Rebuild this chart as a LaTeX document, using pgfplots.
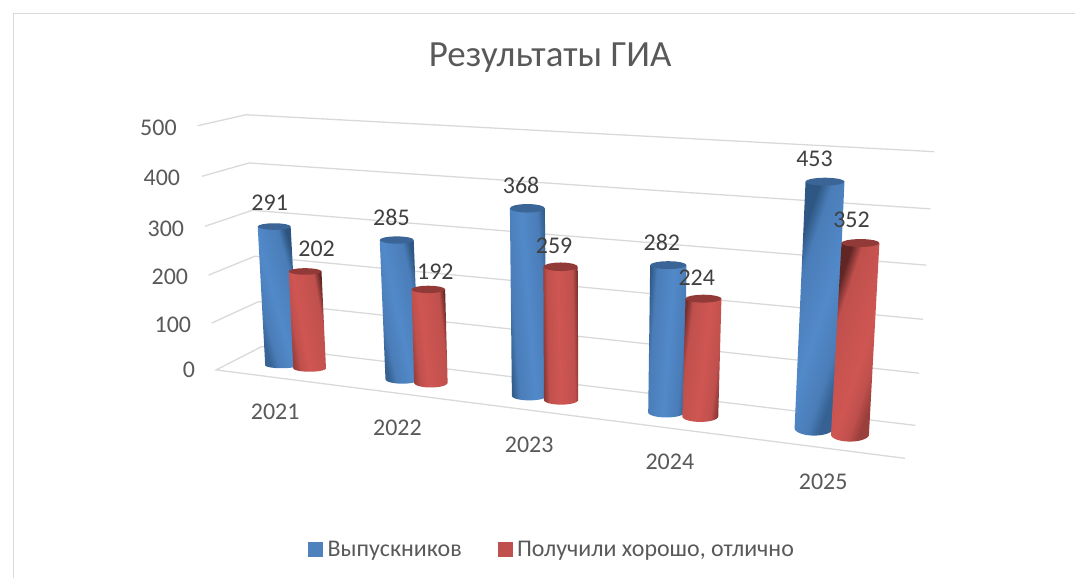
\documentclass[border=0pt]{standalone}
\usepackage{fontspec}
\setmainfont{Carlito}
\usepackage{pgfplots}
\usepackage{pgfplotstable}
\pgfplotsset{compat=1.18}
\definecolor{gridc}{HTML}{D9D9D9}
\definecolor{tickc}{HTML}{595959}
\definecolor{lblc}{HTML}{404040}
\definecolor{blueS}{HTML}{4F81BD}
\definecolor{redS}{HTML}{C0504D}
\definecolor{blueCap}{HTML}{3A6596}
\definecolor{redCap}{HTML}{913A37}
\definecolor{blueB}{HTML}{5289C9}
\definecolor{blueM}{HTML}{4A7DB8}
\definecolor{blueD}{HTML}{264B72}
\definecolor{blueE}{HTML}{3F6DA3}
\definecolor{redB}{HTML}{CF5652}
\definecolor{redM}{HTML}{C0504D}
\definecolor{redD}{HTML}{5E2523}
\definecolor{redE}{HTML}{9E403D}
% val = value; xb,yb = foot of the cylinder; xf,yf = where 500 would lie
\pgfplotstableread{
year val xb yb xf yf rx ryb ryt uz lx ly
2021 291 280.0 366.0 267.1 127.2 16.5 3.0 3.3 -0.15 268 203
2022 285 401.0 380.0 391.0 135.3 17.0 4.5 3.7 -0.10 390 218
2023 368 528.2 396.7 525.5 141.3 17.5 4.5 4.3 0.00 520 186
2024 282 665.5 413.3 669.0 151.6 18.2 5.0 4.0 0.05 661 243
2025 453 813.5 429.0 825.6 156.4 19.5 7.5 4.0 0.10 814 159
}\tblV
\pgfplotstableread{
year val xb yb xf yf rx ryb ryt uz lx ly
2021 202 308.0 369.0 296.9 128.9 16.4 3.5 3.3 -0.30 315 249
2022 192 429.5 383.5 423.0 140.0 16.8 4.8 3.7 -0.30 434 272
2023 259 560.0 400.7 559.0 143.2 17.2 4.8 4.3 -0.10 553 246
2024 224 699.5 417.3 706.6 153.9 18.0 5.5 4.0 0.10 696 278
2025 352 849.5 435.5 864.4 162.8 19.0 7.0 4.0 0.30 851 220
}\tblP
% value-axis and category-axis labels
\pgfplotstableread{
lx ly val
156.5 128 500
160 178 400
164 229 300
168 277 200
171 325 100
187 371 0
}\tblTicks
\pgfplotstableread{
lx ly val
273.5 413 2021
396 428.5 2022
528 446 2023
669 463 2024
822.7 482.5 2025
}\tblCats
% unit cylinder outline: w=0 foot, w=1 top
\pgfplotstableread{
u v w
-1 0 0
-0.9914 0.1305 0
-0.9659 0.2588 0
-0.9239 0.3827 0
-0.8660 0.5 0
-0.7934 0.6088 0
-0.7071 0.7071 0
-0.6088 0.7934 0
-0.5 0.8660 0
-0.3827 0.9239 0
-0.2588 0.9659 0
-0.1305 0.9914 0
0 1 0
0.1305 0.9914 0
0.2588 0.9659 0
0.3827 0.9239 0
0.5 0.8660 0
0.6088 0.7934 0
0.7071 0.7071 0
0.7934 0.6088 0
0.8660 0.5 0
0.9239 0.3827 0
0.9659 0.2588 0
0.9914 0.1305 0
1 0 0
1 0 1
-1 0 1
-1 0 0
}\shapeOut
% unit cylinder cap
\pgfplotstableread{
u v
-1 0
-0.9239 -0.3827
-0.7071 -0.7071
-0.3827 -0.9239
0 -1
0.3827 -0.9239
0.7071 -0.7071
0.9239 -0.3827
1 0
0.9239 0.3827
0.7071 0.7071
0.3827 0.9239
0 1
-0.3827 0.9239
-0.7071 0.7071
-0.9239 0.3827
-1 0
}\shapeCap
\newcommand{\getv}[3]{\pgfplotstablegetelem{#2}{#3}\of{#1}\expandafter\let\csname c#3\endcsname\pgfplotsretval}
% #1 table, #2 row, #3 colour prefix, #4 cap colour
\newcommand{\cyl}[4]{%
  \getv{#1}{#2}{val}\getv{#1}{#2}{xb}\getv{#1}{#2}{yb}\getv{#1}{#2}{xf}\getv{#1}{#2}{yf}%
  \getv{#1}{#2}{rx}\getv{#1}{#2}{ryb}\getv{#1}{#2}{ryt}\getv{#1}{#2}{uz}%
  \pgfmathsetmacro{\cdx}{(\cxf-\cxb)*\cval/500}%
  \pgfmathsetmacro{\cW}{2*\crx+abs(\cdx)}%
  \pgfmathsetmacro{\csh}{50*\crx/\cW}%
  \pgfmathsetmacro{\cang}{-1.5*atan(\cdx/\cW)}%
  \pgfmathsetmacro{\pa}{50-\csh}%
  \pgfmathsetmacro{\pb}{50+\csh}%
  \pgfmathsetmacro{\pc}{50-0.7*\csh}%
  \pgfmathsetmacro{\pd}{50+0.7*\csh}%
  \pgfmathsetmacro{\pz}{50+\csh*\cuz}%
  \pgfmathsetmacro{\mL}{50+150*\cuz}%
  \pgfmathsetmacro{\mR}{50-150*\cuz}%
  \edef\declshade{\noexpand\pgfdeclarehorizontalshading{cyl#3#2}{100bp}{%
    color(0bp)=(#3D!\mL!#3E); color(\pa bp)=(#3D!\mL!#3E); color(\pc bp)=(#3M);
    color(\pz bp)=(#3B); color(\pd bp)=(#3M);
    color(\pb bp)=(#3D!\mR!#3E); color(100bp)=(#3D!\mR!#3E)}}\declshade
  \edef\doplot{\noexpand\addplot[shade,shading=cyl#3#2,shading angle=\cang,draw=none,forget plot]}%
  \doplot
    table[x expr={\cxb+(\cxf-\cxb)*\cval/500*\thisrow{w}+\crx*\thisrow{u}},
          y expr={\cyb+(\cyf-\cyb)*\cval/500*\thisrow{w}+\cryb*\thisrow{v}}] {\shapeOut} --cycle;
  \addplot[fill=#4,draw=none,forget plot]
    table[x expr={\cxb+(\cxf-\cxb)*\cval/500+\crx*\thisrow{u}},
          y expr={\cyb+(\cyf-\cyb)*\cval/500+\cryt*\thisrow{v}}] {\shapeCap} --cycle;
}
\begin{document}
\pgfplotsset{
  txt/.style={draw=none,mark=none,forget plot,point meta=\thisrow{val},nodes near coords,
    every node near coord/.append style={anchor=center,inner sep=0pt,font=\fontsize{24}{28}\selectfont,text=#1}},
  wall/.style={draw=gridc,line width=1.3pt,forget plot},
}
\begin{tikzpicture}
\begin{axis}[
  scale only axis,width=1075pt,height=579pt,
  xmin=0,xmax=1075,ymin=0,ymax=579,y dir=reverse,
  hide axis,
  /pgf/number format/assume math mode=true,
  /pgf/number format/1000 sep={},
  legend columns=2,
  legend cell align=left,
  legend style={draw=none,fill=none,at={(axis cs:551,550.5)},anchor=center,
    font=\fontsize{24}{28}\selectfont,text=tickc,
    /tikz/every even column/.style={column sep=34pt}},
]
\path (axis cs:0,0) -- (axis cs:1075,579);
% chart frame
\addplot[draw=gridc,line width=1.5pt,forget plot] coordinates {(11.5,579) (11.5,13.5) (1075,13.5)};
% side wall and back wall gridlines
\addplot[wall] coordinates {(195.7,126) (244.3,115) (934,152)};
\addplot[wall] coordinates {(200,176.7) (247.3,163.3) (930,209.3)};
\addplot[wall] coordinates {(203.3,226.7) (250.7,210.7) (926,265.7)};
\addplot[wall] coordinates {(206.7,275.7) (253.3,256.7) (922.7,320)};
\addplot[wall] coordinates {(210,323.7) (256.7,302.3) (918.7,374)};
\addplot[wall] coordinates {(904.7,459.3) (214.3,370.7) (260,347.3) (915,426.3)};
% cylinders
\cyl{\tblV}{0}{blue}{blueCap}\cyl{\tblP}{0}{red}{redCap}
\cyl{\tblV}{1}{blue}{blueCap}\cyl{\tblP}{1}{red}{redCap}
\cyl{\tblV}{2}{blue}{blueCap}\cyl{\tblP}{2}{red}{redCap}
\cyl{\tblV}{3}{blue}{blueCap}\cyl{\tblP}{3}{red}{redCap}
\cyl{\tblV}{4}{blue}{blueCap}\cyl{\tblP}{4}{red}{redCap}
% labels
\addplot[txt=lblc] table[x=lx,y=ly] {\tblV};
\addplot[txt=lblc] table[x=lx,y=ly] {\tblP};
\addplot[txt=tickc] table[x=lx,y=ly] {\tblTicks};
\addplot[txt=tickc] table[x=lx,y=ly] {\tblCats};
\node[font=\fontsize{37}{41}\selectfont,text=tickc] at (axis cs:549,58) {Результаты ГИА};
% legend
\addlegendimage{legend image code/.code={\fill[blueS] (0pt,-7pt) rectangle (14pt,7pt);\path (17pt,0pt);}}
\addlegendentry{Выпускников}
\addlegendimage{legend image code/.code={\fill[redS] (0pt,-7pt) rectangle (14pt,7pt);\path (17pt,0pt);}}
\addlegendentry{Получили хорошо, отлично}
\end{axis}
\end{tikzpicture}
\end{document}
